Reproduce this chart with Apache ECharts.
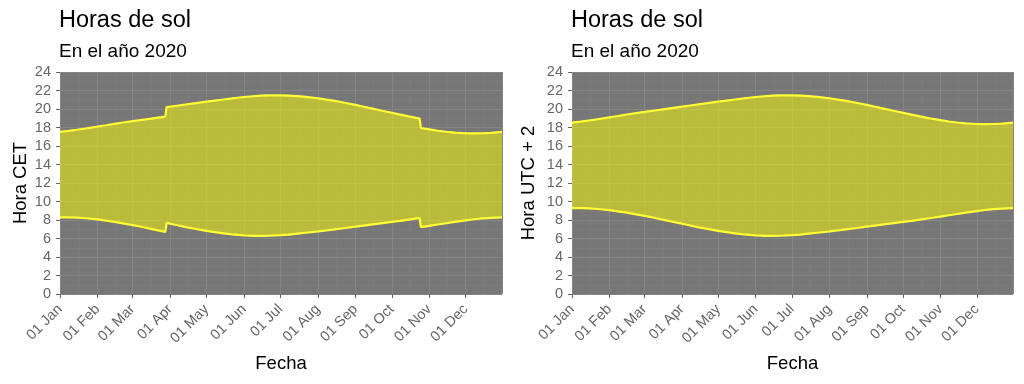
<!DOCTYPE html>
<html>
<head>
<meta charset="utf-8">
<script src="https://cdn.jsdelivr.net/npm/echarts@6/dist/echarts.min.js"></script>
<style>html,body{margin:0;padding:0;background:#fff}#c{width:1024px;height:384px}</style>
</head>
<body>
<div id="c"></div>
<script>
const fechas = ['2020-01-01','2020-01-08','2020-01-15','2020-01-22','2020-02-01','2020-02-08','2020-02-15','2020-02-22','2020-03-01','2020-03-08','2020-03-15','2020-03-22','2020-03-28','2020-03-29','2020-04-01','2020-04-08','2020-04-15','2020-04-22','2020-05-01','2020-05-08','2020-05-15','2020-05-22','2020-06-01','2020-06-08','2020-06-15','2020-06-22','2020-07-01','2020-07-08','2020-07-15','2020-07-22','2020-08-01','2020-08-08','2020-08-15','2020-08-22','2020-09-01','2020-09-08','2020-09-15','2020-09-22','2020-10-01','2020-10-08','2020-10-15','2020-10-22','2020-10-24','2020-10-25','2020-11-01','2020-11-08','2020-11-15','2020-11-22','2020-12-01','2020-12-08','2020-12-15','2020-12-22','2020-12-31'];

// Hora CET (con cambio de hora)
const amanecerCET = [8.29,8.29,8.26,8.19, 8.06,7.94,7.79,7.63, 7.45,7.27,7.07,6.88,6.70,7.67, 7.60,7.40,7.21,7.04, 6.83,6.68,6.55,6.45, 6.34,6.29,6.29,6.30, 6.36,6.42,6.52,6.62, 6.76,6.87,6.99,7.11, 7.28,7.40,7.52,7.64, 7.79,7.91,8.04,8.18,8.22,7.23, 7.37,7.51,7.65,7.79, 7.96,8.08,8.17,8.24,8.29];
const atardecerCET = [17.53,17.63,17.76,17.89, 18.10,18.24,18.39,18.54, 18.68,18.81,18.94,19.07,19.18,20.20, 20.25,20.38,20.51,20.63, 20.79,20.91,21.03,21.14, 21.30,21.38,21.44,21.47, 21.48,21.45,21.39,21.31, 21.16,21.02,20.87,20.70, 20.44,20.24,20.04,19.84, 19.59,19.39,19.20,19.02,18.97,17.95, 17.80,17.65,17.54,17.45, 17.38,17.36,17.38,17.42,17.52];

// Hora UTC + 2
const amanecerUTC2 = [9.29,9.29,9.26,9.19, 9.06,8.94,8.79,8.63, 8.45,8.27,8.07,7.88,7.70,7.67, 7.60,7.40,7.21,7.04, 6.83,6.68,6.55,6.45, 6.34,6.29,6.29,6.30, 6.36,6.42,6.52,6.62, 6.76,6.87,6.99,7.11, 7.28,7.40,7.52,7.64, 7.79,7.91,8.04,8.18,8.22,8.23, 8.37,8.51,8.65,8.79, 8.96,9.08,9.17,9.24,9.29];
const atardecerUTC2 = [18.53,18.63,18.76,18.89, 19.10,19.24,19.39,19.54, 19.68,19.81,19.94,20.07,20.18,20.20, 20.25,20.38,20.51,20.63, 20.79,20.91,21.03,21.14, 21.30,21.38,21.44,21.47, 21.48,21.45,21.39,21.31, 21.16,21.02,20.87,20.70, 20.44,20.24,20.04,19.84, 19.59,19.39,19.20,19.02,18.97,18.95, 18.80,18.65,18.54,18.45, 18.38,18.36,18.38,18.42,18.52];

const titulo = 'Horas de sol';
const subtitulo = 'En el año 2020';
const nombreX = 'Fecha';
const nombresY = ['Hora CET', 'Hora UTC + 2'];
const fechaMin = '2020-01-01';
const fechaMax = '2020-12-31';

const FONT = 'Liberation Sans';
const lineCol = '#ffff33';
const fillCol = 'rgba(255,255,0,0.5)';
const tickCol = '#666';

function xAxis(gi) {
  return {
    type: 'time', gridIndex: gi, min: fechaMin, max: fechaMax,
    splitNumber: 12, minInterval: 28 * 86400000, maxInterval: 31 * 86400000,
    name: nombreX, nameLocation: 'middle', nameGap: 60,
    nameTextStyle: { fontFamily: FONT, fontSize: 18.5, color: '#000' },
    axisLine: { show: false },
    axisTick: { show: true, length: 4, lineStyle: { color: tickCol } },
    axisLabel: { formatter: '{dd} {MMM}', rotate: 45, margin: 13, fontFamily: FONT, fontSize: 14.5, color: tickCol, showMaxLabel: false, hideOverlap: false },
    splitLine: { show: true, lineStyle: { color: '#858585', width: 1 } },
    minorTick: { show: false, splitNumber: 2 },
    minorSplitLine: { show: true, lineStyle: { color: '#7e7e7e', width: 0.6 } }
  };
}
function yAxis(gi, name, gap) {
  return {
    type: 'value', gridIndex: gi, min: 0, max: 24, interval: 2,
    name: name, nameLocation: 'middle', nameGap: gap, nameRotate: 90,
    nameTextStyle: { fontFamily: FONT, fontSize: 18.5, color: '#000' },
    axisLine: { show: false },
    axisTick: { show: true, length: 4, lineStyle: { color: tickCol } },
    axisLabel: { margin: 9, fontFamily: FONT, fontSize: 14.5, color: tickCol },
    splitLine: { show: true, lineStyle: { color: '#858585', width: 1 } },
    minorTick: { show: false, splitNumber: 2 },
    minorSplitLine: { show: true, lineStyle: { color: '#7e7e7e', width: 0.6 } }
  };
}
function pares(a) { return fechas.map((d, i) => [d, a[i]]); }
function banda(lo, hi) { return fechas.map((d, i) => [d, +(hi[i] - lo[i]).toFixed(3)]); }
function series(gi, lo, hi) {
  return [
    { type: 'line', xAxisIndex: gi, yAxisIndex: gi, stack: 's' + gi, data: pares(lo), showSymbol: false, symbol: 'none',
      lineStyle: { color: lineCol, width: 2.2 }, silent: true, z: 3 },
    { type: 'line', xAxisIndex: gi, yAxisIndex: gi, stack: 's' + gi, data: banda(lo, hi), showSymbol: false, symbol: 'none',
      lineStyle: { color: lineCol, width: 2.2 }, areaStyle: { color: fillCol, opacity: 1 }, silent: true, z: 2 }
  ];
}

const chart = echarts.init(document.getElementById('c'), null, { renderer: 'canvas' });
chart.setOption({
  animation: false,
  title: [
    { text: titulo, left: 59, top: 9, padding: 0, textStyle: { fontFamily: FONT, fontSize: 23.5, fontWeight: 'normal', color: '#000' } },
    { text: subtitulo, left: 59, top: 42, padding: 0, textStyle: { fontFamily: FONT, fontSize: 19, fontWeight: 'normal', color: '#000' } },
    { text: titulo, left: 571, top: 9, padding: 0, textStyle: { fontFamily: FONT, fontSize: 23.5, fontWeight: 'normal', color: '#000' } },
    { text: subtitulo, left: 571, top: 42, padding: 0, textStyle: { fontFamily: FONT, fontSize: 19, fontWeight: 'normal', color: '#000' } }
  ],
  grid: [
    { left: 60, right: 522, top: 72, bottom: 90, show: true, backgroundColor: '#777777', borderWidth: 0 },
    { left: 572, right: 11, top: 72, bottom: 90, show: true, backgroundColor: '#777777', borderWidth: 0 }
  ],
  xAxis: [xAxis(0), xAxis(1)],
  yAxis: [yAxis(0, nombresY[0], 30), yAxis(1, nombresY[1], 34)],
  series: [].concat(series(0, amanecerCET, atardecerCET), series(1, amanecerUTC2, atardecerUTC2))
});
</script>
</body>
</html>
